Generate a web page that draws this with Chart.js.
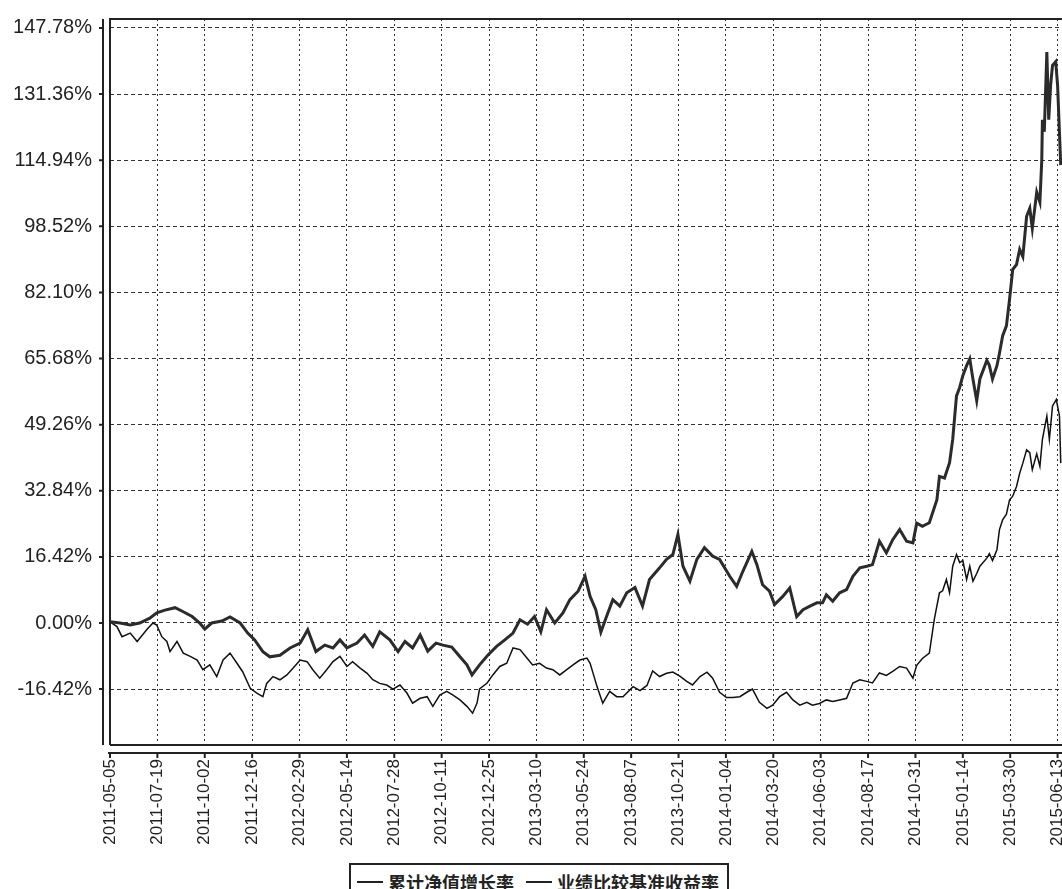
<!DOCTYPE html>
<html>
<head>
<meta charset="utf-8">
<script src="https://cdn.jsdelivr.net/npm/chart.js@4"></script>
<style>
    body { margin: 0; background: #fff; }
    #wrap { position: relative; width: 1062px; height: 889px; overflow: hidden; }
    #legendBox {
        position: absolute; left: 349px; top: 863px; width: 380px; height: 34px;
        border: 2px solid #222; box-sizing: border-box; background: #fff;
        font-family: "Noto Sans CJK SC", sans-serif; font-size: 18px; font-weight: bold; color: #222;
        display: flex; align-items: flex-start; padding-top: 4px;
    }
    .item { display: flex; align-items: center; margin-left: 6px; }
    .item + .item { margin-left: 12px; }
    .swatch { display: inline-block; width: 26px; height: 0; margin-right: 5px; border-top: 2px solid #222; }
</style>
</head>
<body>
<div id="wrap">
    <canvas id="navChart" width="1062" height="889"></canvas>
    <div id="legendBox">
        <span class="item"><span class="swatch"></span>累计净值增长率</span>
        <span class="item"><span class="swatch"></span>业绩比较基准收益率</span>
    </div>
</div>
<script>
// Dates on the x axis are counted in days from the first tick label
const startDate = '2011-05-05';
const tickLabels = ['2011-05-05', '2011-07-19', '2011-10-02', '2011-12-16', '2012-02-29', '2012-05-14',
    '2012-07-28', '2012-10-11', '2012-12-25', '2013-03-10', '2013-05-24', '2013-08-07', '2013-10-21',
    '2014-01-04', '2014-03-20', '2014-06-03', '2014-08-17', '2014-10-31', '2015-01-14', '2015-03-30', '2015-06-13'];
const yTicks = [-16.42, 0, 16.42, 32.84, 49.26, 65.68, 82.10, 98.52, 114.94, 131.36, 147.78];

// 累计净值增长率 (%)
const fundDays = [0, 16, 32, 47, 63, 74, 87, 103, 116, 130,
    142, 150, 161, 177, 190, 206, 218, 229, 242, 253,
    269, 285, 301, 313, 326, 340, 353, 364, 375, 391,
    403, 416, 427, 443, 456, 467, 479, 491, 503, 516,
    527, 541, 554, 565, 573, 585, 598, 612, 625, 638,
    649, 661, 672, 682, 691, 704, 717, 728, 741, 752,
    760, 769, 777, 786, 796, 807, 818, 831, 843, 854,
    870, 881, 891, 899, 907, 918, 929, 941, 954, 965,
    981, 992, 1002, 1016, 1024, 1033, 1044, 1052, 1065, 1076,
    1087, 1097, 1108, 1119, 1128, 1134, 1144, 1155, 1166, 1176,
    1187, 1198, 1207, 1218, 1229, 1239, 1250, 1261, 1271, 1277,
    1286, 1297, 1309, 1313, 1321, 1329, 1334, 1340, 1345, 1350,
    1356, 1361, 1366, 1372, 1377, 1388, 1392, 1397, 1404, 1408,
    1413, 1419, 1424, 1429, 1435, 1440, 1445, 1451, 1456, 1460,
    1467, 1472, 1475, 1476, 1479, 1483, 1486, 1489, 1492, 1497,
    1500, 1505];
const fundValues = [0.3, 0, -0.5, 0, 1.2, 2.5, 3.2, 3.8, 2.8, 1.6,
    0, -1.5, 0, 0.5, 1.5, 0, -2.5, -4.2, -7.1, -8.4,
    -8, -6.2, -5, -1.7, -7.1, -5.5, -6.2, -4.2, -6.2, -5.0,
    -3, -5.8, -2.2, -4.2, -7.1, -4.6, -6.2, -3, -7, -5,
    -5.5, -6, -8.4, -10.4, -12.9, -10.4, -8, -5.8, -4.2, -2.5,
    0.8, -0.3, 1.6, -2.2, 3.3, 0, 2.5, 5.8, 7.9, 11.6,
    6.6, 3.3, -2.3, 1.6, 5.8, 4.2, 7.5, 8.8, 4.2, 10.8,
    13.7, 15.8, 17, 22, 14.1, 10.4, 15.8, 18.7, 16.6, 15.8,
    11.6, 9.1, 12.9, 17.8, 14.5, 9.5, 7.9, 4.6, 6.6, 8.7,
    1.6, 3.3, 4.2, 5, 5, 7, 5.4, 7.5, 8.3, 11.6,
    13.7, 14.1, 14.5, 20.3, 17.4, 20.7, 23.2, 20.3, 19.9, 24.8,
    24, 24.9, 30.6, 36.4, 36, 39.8, 45.6, 56.4, 58.5, 61.4,
    63.9, 65.6, 60.6, 55.2, 60.6, 65.2, 64, 60.6, 63.9, 67,
    71.3, 73.8, 80.4, 87.8, 89, 92.8, 91, 101, 103, 98,
    107, 104.5, 115, 125, 122, 141.8, 125, 133.6, 138.5, 139.4,
    133.6, 113.7];

// 业绩比较基准收益率 (%)
const benchDays = [0, 11, 19, 32, 43, 59, 68, 74, 82, 90,
    95, 106, 116, 127, 138, 147, 158, 169, 179, 190,
    201, 210, 222, 233, 242, 248, 258, 269, 280, 290,
    301, 312, 321, 332, 343, 353, 364, 375, 384, 396,
    407, 416, 427, 438, 448, 459, 470, 479, 491, 502,
    511, 522, 533, 543, 554, 565, 574, 581, 585, 597,
    606, 617, 628, 638, 649, 660, 669, 680, 691, 701,
    712, 723, 733, 744, 755, 760, 771, 780, 791, 802,
    812, 828, 839, 850, 859, 870, 881, 891, 902, 913,
    922, 934, 945, 954, 965, 976, 986, 997, 1008, 1017,
    1028, 1040, 1049, 1060, 1071, 1081, 1092, 1103, 1112, 1123,
    1134, 1144, 1155, 1166, 1176, 1187, 1198, 1207, 1218, 1229,
    1239, 1250, 1261, 1271, 1277, 1286, 1297, 1305, 1313, 1318,
    1324, 1329, 1334, 1340, 1345, 1350, 1356, 1361, 1366, 1372,
    1377, 1388, 1392, 1397, 1404, 1408, 1413, 1419, 1424, 1429,
    1435, 1440, 1445, 1451, 1456, 1460, 1467, 1472, 1476, 1483,
    1487, 1492, 1498, 1503, 1505];
const benchValues = [0.3, -0.9, -3.4, -2.5, -4.6, -1.5, 0, -0.5, -3.4, -4.6,
    -7.1, -4.6, -7.5, -8.3, -9.2, -11.6, -10.4, -13.3, -9.2, -7.5,
    -10, -12.1, -16.2, -17.5, -18.3, -15, -13.3, -14.1, -12.9, -11.2,
    -9.2, -9.6, -11.6, -13.7, -11.6, -9.6, -8.3, -10.8, -9.6, -11.2,
    -12.5, -14.1, -15, -15.4, -16.4, -15.4, -17.4, -19.9, -18.7, -18.3,
    -20.7, -17.9, -17, -17.9, -19.1, -20.7, -22.4, -19.9, -16.4, -14.9,
    -12.9, -10.8, -10, -6.2, -6.6, -8.7, -10.4, -10, -11.2, -11.6,
    -12.9, -11.6, -10.4, -9.2, -8.7, -10, -15.8, -19.9, -17, -18.3,
    -18.3, -15.8, -16.8, -15.5, -11.9, -13.3, -12.5, -12.2, -13.2, -14.5,
    -15.4, -13.3, -12.2, -13.7, -17.2, -18.5, -18.5, -18.3, -17.2, -16.4,
    -19.7, -21.2, -20.4, -18.3, -17.2, -19.1, -20.4, -19.7, -20.4, -20,
    -19.1, -19.5, -19.1, -18.7, -14.9, -14.1, -14.5, -14.9, -12.4, -13,
    -12, -10.8, -11.2, -13.7, -10.5, -8.8, -7.5, 1, 7.5, 8,
    10.8, 7.5, 14.1, 17, 15, 15.5, 10.8, 14.1, 10.4, 12.3,
    14.1, 16.1, 17.2, 15.5, 18.2, 23.2, 25.6, 27, 30.6, 31.5,
    33.9, 37.2, 39.7, 43, 42.3, 38.1, 42, 38.9, 45.6, 51.4,
    45.6, 53.9, 55.5, 51.4, 39.7];

document.addEventListener('DOMContentLoaded', function() {
    const dayMs = 86400000;
    const tickDays = tickLabels.map(d => Math.round((Date.parse(d) - Date.parse(startDate)) / dayMs));

    // plot box plus the separate axis lines that sit a few pixels outside it
    const framePlugin = {
        id: 'frame',
        beforeDatasetsDraw(chart) {
            const ctx = chart.ctx;
            const a = chart.chartArea;
            const yAxisX = a.left - 7;
            const xAxisY = a.bottom + 8;
            ctx.save();
            ctx.strokeStyle = '#222';
            ctx.lineWidth = 2;
            ctx.beginPath();
            ctx.moveTo(a.left, a.bottom);
            ctx.lineTo(a.left, a.top);
            ctx.lineTo(a.right, a.top);
            ctx.moveTo(a.left, a.bottom);
            ctx.lineTo(a.right, a.bottom);
            ctx.moveTo(yAxisX, a.top);
            ctx.lineTo(yAxisX, a.bottom);
            ctx.moveTo(a.left - 2, xAxisY);
            ctx.lineTo(a.right, xAxisY);
            chart.scales.y.ticks.forEach(t => {
                const p = chart.scales.y.getPixelForValue(t.value);
                ctx.moveTo(yAxisX - 4, p);
                ctx.lineTo(yAxisX, p);
            });
            chart.scales.x.ticks.forEach(t => {
                const p = chart.scales.x.getPixelForValue(t.value);
                ctx.moveTo(p, xAxisY);
                ctx.lineTo(p, xAxisY + 5);
            });
            ctx.stroke();
            ctx.restore();
        }
    };

    Chart.defaults.font.family = 'Arial, "Liberation Sans", sans-serif';
    Chart.defaults.color = '#222';

    const ctx = document.getElementById('navChart').getContext('2d');
    new Chart(ctx, {
        type: 'line',
        data: {
            datasets: [{
                label: '累计净值增长率',
                data: fundDays.map((d, i) => ({ x: d, y: fundValues[i] })),
                borderColor: '#2b2b2b',
                borderWidth: 3,
                pointRadius: 0,
                tension: 0
            }, {
                label: '业绩比较基准收益率',
                data: benchDays.map((d, i) => ({ x: d, y: benchValues[i] })),
                borderColor: '#111',
                borderWidth: 1.5,
                pointRadius: 0,
                tension: 0
            }]
        },
        options: {
            responsive: false,
            animation: false,
            layout: { padding: { top: 19, right: 0, bottom: 0, left: 0 } },
            plugins: {
                legend: { display: false },
                tooltip: { enabled: false }
            },
            scales: {
                x: {
                    type: 'linear',
                    min: 0,
                    max: 1507,
                    afterBuildTicks: scale => { scale.ticks = tickDays.map(v => ({ value: v })); },
                    afterFit: scale => { scale.height = 144; scale.paddingLeft = 0; scale.paddingRight = 0; },
                    ticks: {
                        autoSkip: false,
                        minRotation: 90,
                        maxRotation: 90,
                        padding: 14,
                        font: { size: 17 },
                        callback: (v, i) => tickLabels[i]
                    },
                    grid: { color: '#333', lineWidth: 1, drawTicks: false },
                    border: { display: false, dash: [2, 3] }
                },
                y: {
                    min: -30.3,
                    max: 150,
                    afterBuildTicks: scale => { scale.ticks = yTicks.map(v => ({ value: v })); },
                    afterFit: scale => { scale.width = 110; scale.paddingTop = 0; scale.paddingBottom = 0; },
                    ticks: {
                        padding: 18,
                        font: { size: 20 },
                        callback: v => v.toFixed(2) + '%'
                    },
                    grid: { color: '#333', lineWidth: 1, drawTicks: false },
                    border: { display: false, dash: [4, 3] }
                }
            }
        },
        plugins: [framePlugin]
    });
});
</script>
</body>
</html>
